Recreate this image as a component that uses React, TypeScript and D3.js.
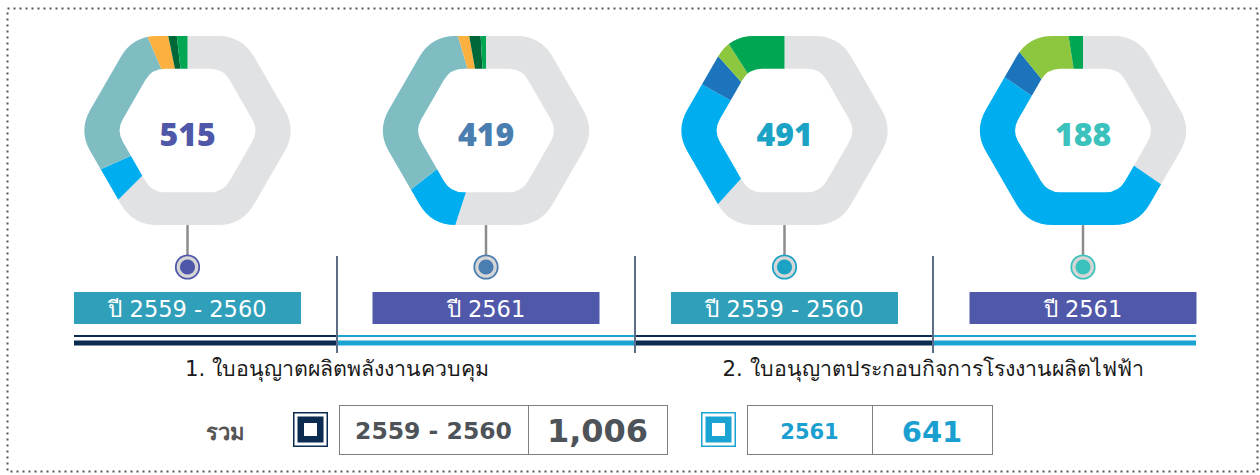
import React from 'react';
import * as d3 from 'd3';

// ---------- data ----------
const segmentColors: Record<string, string> = {
  gray: '#E1E2E4',
  blue: '#00AEEF',
  teal: '#80BDC3',
  orange: '#FBB040',
  darkgreen: '#006838',
  green: '#00A651',
  lightgreen: '#8DC63F',
  darkblue: '#1C75BC',
};

const chart1Keys = ['gray', 'blue', 'teal', 'orange', 'darkgreen', 'green'];
const chart1Values = [62.5, 5.8, 25.3, 3.2, 1.4, 1.8];
const chart2Keys = ['gray', 'blue', 'teal', 'orange', 'darkgreen', 'green'];
const chart2Values = [55.0, 9.4, 31.0, 1.8, 1.9, 0.9];
const chart3Keys = ['gray', 'blue', 'darkblue', 'lightgreen', 'green'];
const chart3Values = [61.7, 21.4, 5.3, 2.5, 9.1];
const chart4Keys = ['gray', 'blue', 'darkblue', 'lightgreen', 'green'];
const chart4Values = [34.6, 49.9, 4.7, 8.4, 2.4];

const totals = ['515', '419', '491', '188'];
const totalColors = ['#4F57A9', '#4A7DB0', '#1BA3C6', '#3CC2BC'];
const periods = ['ปี 2559 - 2560', 'ปี 2561', 'ปี 2559 - 2560', 'ปี 2561'];
const periodColors = ['#2F9FBA', '#4F58A9', '#2F9FBA', '#4F58A9'];
const groupLabels = ['1. ใบอนุญาตผลิตพลังงานควบคุม', '2. ใบอนุญาตประกอบกิจการโรงงานผลิตไฟฟ้า'];
const sumLabel = 'รวม';
const summaryPeriods = ['2559 - 2560', '2561'];
const summaryTotals = ['1,006', '641'];

const charts = [
  { keys: chart1Keys, values: chart1Values },
  { keys: chart2Keys, values: chart2Values },
  { keys: chart3Keys, values: chart3Values },
  { keys: chart4Keys, values: chart4Values },
];

// ---------- layout ----------
const W = 1260;
const H = 475;
const NAVY = '#0B2B50';
const LIGHT = '#1BA3D3';
const xCol = d3.scaleLinear().domain([0, 3]).range([187.5, 1083]);
const hexCY = 130.5;
const R_OUT = 109.2;
const R_IN = 71.2;

function roundedHex(R: number, t: number): string {
  const v = d3.range(6).map((i) => {
    const a = (Math.PI / 3) * i;
    return [R * Math.cos(a), R * Math.sin(a)];
  });
  const pt = (a: number[], b: number[], d: number) => {
    const len = Math.hypot(b[0] - a[0], b[1] - a[1]);
    return [a[0] + ((b[0] - a[0]) * d) / len, a[1] + ((b[1] - a[1]) * d) / len];
  };
  const p = d3.path();
  for (let i = 0; i <= 6; i++) {
    const cur = v[i % 6];
    const prev = v[(i + 5) % 6];
    const next = v[(i + 1) % 6];
    const pin = pt(cur, prev, t);
    const pout = pt(cur, next, t);
    if (i === 0) p.moveTo(pout[0], pout[1]);
    else {
      p.lineTo(pin[0], pin[1]);
      p.quadraticCurveTo(cur[0], cur[1], pout[0], pout[1]);
    }
  }
  p.closePath();
  return p.toString();
}

const ringPath = roundedHex(R_OUT, 24) + roundedHex(R_IN, 13);
const pie = d3.pie<number>().sort(null).value((d) => d);
const arc = d3.arc<d3.PieArcDatum<number>>().innerRadius(0).outerRadius(140);

const thaiFont = "'DejaVu Sans', 'Noto Sans', sans-serif";
const numFont = "'Open Sans', 'Noto Sans', sans-serif";
const tableFont = "'DejaVu Sans', sans-serif";

export default function App() {
  const timelineStops = [74, 337, 635, 933, 1196];
  const timelineColors = [NAVY, LIGHT, NAVY, LIGHT];
  const separators = [337, 635, 933];
  return (
    <svg width={W} height={H} style={{ position: 'absolute', left: 0, top: 0, background: '#fff' }}>
      <defs>
        <clipPath id="hexring">
          <path d={ringPath} clipRule="evenodd" />
        </clipPath>
      </defs>
      <rect x={7.5} y={8.5} width={1250} height={463} fill="none" stroke="#555" strokeWidth={2} strokeDasharray="2 4" />

      {charts.map((c, i) => {
        const cx = xCol(i);
        const arcs = pie(c.values);
        return (
          <g key={i}>
            <g transform={`translate(${cx},${hexCY})`}>
              <g clipPath="url(#hexring)">
                {arcs.map((a, j) => (
                  <path key={j} d={arc(a) || ''} fill={segmentColors[c.keys[j]]} />
                ))}
              </g>
              <text
                x={0}
                y={15.5}
                textAnchor="middle"
                fontFamily={numFont}
                fontWeight={800}
                fontSize={32}
                fill={totalColors[i]}
              >
                {totals[i]}
              </text>
            </g>
            <line x1={cx} x2={cx} y1={hexCY + R_OUT * Math.sqrt(3) / 2} y2={256} stroke="#8C8C8C" strokeWidth={2.5} />
            <circle cx={cx} cy={267} r={12.6} fill={totalColors[i]} />
            <circle cx={cx} cy={267} r={10.8} fill="#D6D6D6" />
            <circle cx={cx} cy={267} r={7.6} fill={totalColors[i]} />
            <rect x={cx - 113.5} y={292} width={227} height={32} fill={periodColors[i]} />
            <text x={cx} y={316.5} textAnchor="middle" fontFamily={thaiFont} fontSize={22.5} fill="#fff">
              {periods[i]}
            </text>
          </g>
        );
      })}

      {timelineColors.map((col, i) => (
        <g key={i}>
          <rect x={timelineStops[i]} y={335} width={timelineStops[i + 1] - timelineStops[i]} height={2} fill={col} />
          <rect x={timelineStops[i]} y={340.5} width={timelineStops[i + 1] - timelineStops[i]} height={5} fill={col} />
        </g>
      ))}
      {separators.map((s) => (
        <line key={s} x1={s} x2={s} y1={256} y2={353} stroke="#5B6E86" strokeWidth={2} />
      ))}
      {groupLabels.map((g, i) => (
        <text key={i} x={separators[i * 2]} y={376} textAnchor="middle" fontFamily={thaiFont} fontSize={21.3} fill="#1a1a1a">
          {g}
        </text>
      ))}

      {/* summary row */}
      <text x={225} y={440} textAnchor="middle" fontFamily={thaiFont} fontWeight={700} fontSize={22} fill="#555">
        {sumLabel}
      </text>
      {[
        { sq: 293, t0: 339, t1: 528, t2: 667, col: NAVY, textCol: '#4D5358', fs1: 23.5, fs2: 32 },
        { sq: 701, t0: 747, t1: 872, t2: 992, col: LIGHT, textCol: '#1B9FD0', fs1: 21, fs2: 29 },
      ].map((r, i) => (
        <g key={i}>
          <rect x={r.sq + 0.75} y={412.75} width={33.5} height={33.5} fill="#fff" stroke={r.col} strokeWidth={1.5} />
          <rect x={r.sq + 4.5} y={416.5} width={26} height={26} fill={r.col} />
          <rect x={r.sq + 11} y={423} width={13} height={13} fill="#fff" />
          <rect x={r.t0 + 0.5} y={405.5} width={r.t2 - r.t0} height={49} fill="#fff" stroke="#808080" strokeWidth={1} />
          <line x1={r.t1 + 0.5} x2={r.t1 + 0.5} y1={405.5} y2={454.5} stroke="#808080" strokeWidth={1} />
          <text x={(r.t0 + r.t1) / 2} y={438.5} textAnchor="middle" fontFamily={tableFont} fontWeight={700} fontSize={r.fs1} fill={r.textCol}>
            {summaryPeriods[i]}
          </text>
          <text x={(r.t1 + r.t2) / 2} y={442} textAnchor="middle" fontFamily={tableFont} fontWeight={700} fontSize={r.fs2} fill={r.textCol}>
            {summaryTotals[i]}
          </text>
        </g>
      ))}
    </svg>
  );
}
